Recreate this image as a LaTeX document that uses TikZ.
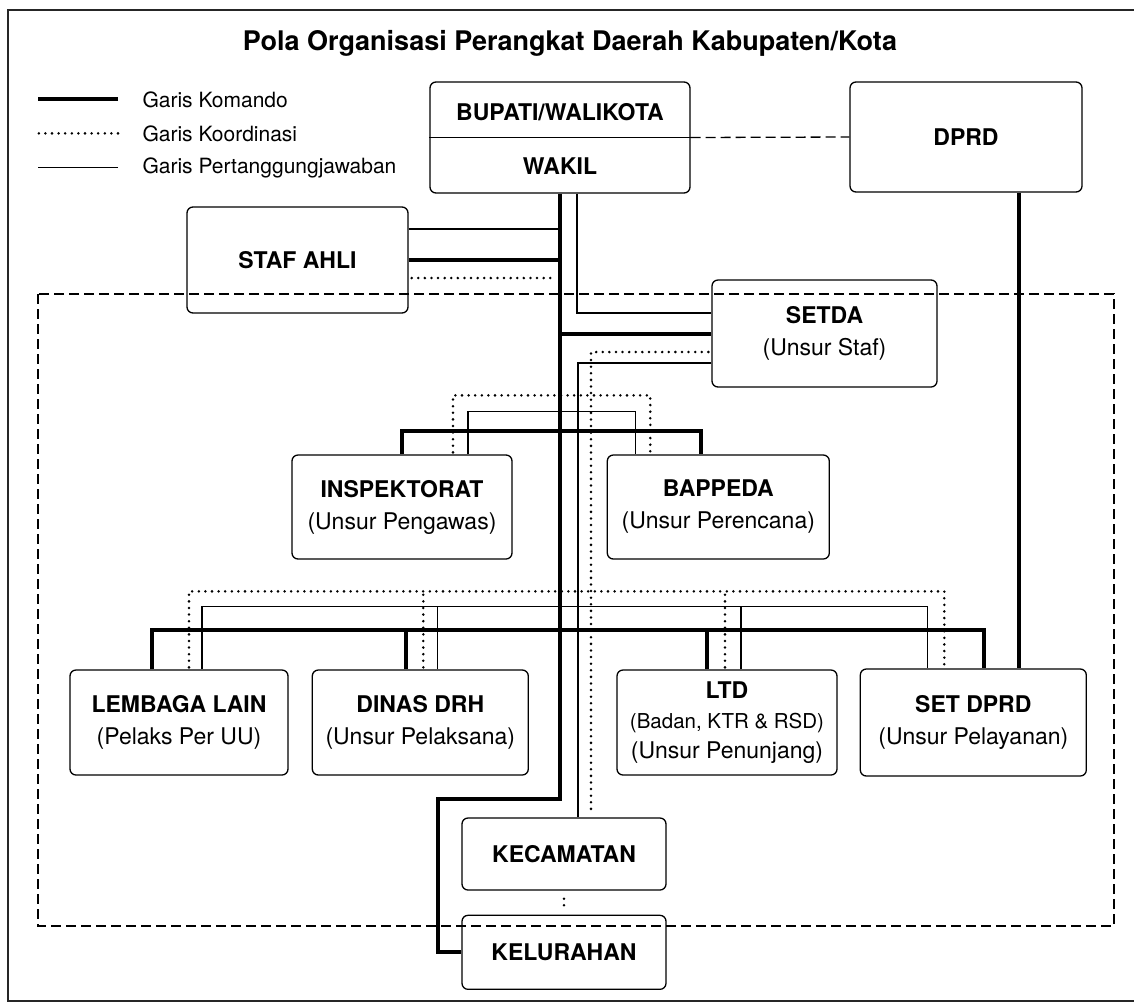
\documentclass[tikz,border=0pt]{standalone}
\usepackage{fontspec}
\setmainfont{TeX Gyre Heros}
\usetikzlibrary{positioning}

\begin{document}
\begin{tikzpicture}[x=1pt,y=-1pt,line join=miter]
  \tikzstyle{kotak}=[draw,rounded corners=6pt,line width=1.3pt,align=center,
                     inner sep=0pt,font=\fontsize{23}{32}\selectfont]
  \tikzstyle{komando}=[line width=4pt]
  \tikzstyle{tanggung}=[line width=1.4pt]
  \tikzstyle{koordinasi}=[line width=2.8pt,line cap=round,dash pattern=on 0pt off 6.6pt]
  \tikzstyle{batas}=[line width=1.3pt,dash pattern=on 10pt off 5pt]
  \tikzstyle{ket}=[anchor=base west,font=\fontsize{21}{24}\selectfont]

  \useasboundingbox (0,0) rectangle (1134,1005);
  \draw[line width=1.8pt,black!85] (1134,10) -- (8,10) -- (8,1001) -- (1134,1001);

  \node[font=\bfseries\fontsize{27}{30}\selectfont] (judul) at (570,43)
    {Pola Organisasi Perangkat Daerah Kabupaten/Kota};

  % keterangan garis
  \node[ket] (kKomando)  at (139,107) {Garis Komando};
  \node[ket] (kKoord)    at (139,141) {Garis Koordinasi};
  \node[ket] (kTanggung) at (139,173) {Garis Pertanggungjawaban};
  \draw[komando]    ([xshift=-21pt]kKomando.west)  -- ++(-80,0);
  \draw[koordinasi] ([xshift=-21pt]kKoord.west)    -- ++(-80,0);
  \draw[tanggung]   ([xshift=-21pt]kTanggung.west) -- ++(-80,0);

  % kotak
  \node[kotak,minimum width=260,minimum height=111] (bupati) at (560,137.5) {};
  \node[font=\bfseries\fontsize{23}{26}\selectfont] (bupatiT) at (560,112) {BUPATI/WALIKOTA};
  \node[font=\bfseries\fontsize{23}{26}\selectfont] (wakilT)  at (560,166) {WAKIL};
  \draw[line width=1.3pt] (bupati.west) -- (bupati.east);

  \node[kotak,minimum width=232,minimum height=110] (dprd) at (966,137) {\textbf{DPRD}};
  \node[kotak,minimum width=221,minimum height=106] (staf) at (297.5,260) {\textbf{STAF AHLI}};
  \node[kotak,minimum width=225,minimum height=107] (setda) at (824.5,333.5)
    {\textbf{SETDA}\\(Unsur Staf)};

  \node[kotak,minimum width=220,minimum height=104] (inspektorat) at (402,507)
    {\textbf{INSPEKTORAT}\\(Unsur Pengawas)};
  \node[kotak,minimum width=222,minimum height=104] (bappeda) [right=94pt of inspektorat]
    {\textbf{BAPPEDA}\\(Unsur Perencana)};

  \node[kotak,minimum width=218,minimum height=105] (lembaga) at (179,722.5)
    {\textbf{LEMBAGA LAIN}\\(Pelaks Per UU)};
  \node[kotak,minimum width=216,minimum height=105] (dinas) [right=23pt of lembaga]
    {\textbf{DINAS DRH}\\(Unsur Pelaksana)};
  \node[kotak,minimum width=220,minimum height=105,font=\fontsize{23}{30}\selectfont] (ltd) at (727,722.5)
    {\textbf{LTD}\\{\fontsize{20.5}{30}\selectfont (Badan, KTR \& RSD)}\\(Unsur Penunjang)};
  \node[kotak,minimum width=226,minimum height=107] (setdprd) [right=22pt of ltd]
    {\textbf{SET DPRD}\\(Unsur Pelayanan)};

  \node[kotak,minimum width=204,minimum height=72] (kecamatan) at (564,854) {\textbf{KECAMATAN}};
  \node[kotak,minimum width=204,minimum height=74] (kelurahan) [below=24pt of kecamatan]
    {\textbf{KELURAHAN}};

  \coordinate (belok) at (438,799);

  % batas perangkat daerah
  \draw[batas] (38,294) rectangle (1114,926);
  \draw[batas] (bupati.east) -- (dprd.west);

  % garis komando
  \draw[komando] (bupati.south) |- (belok) |- (kelurahan.west);
  \draw[komando] (staf.east) -- (staf.east -| bupati.south);
  \draw[komando] (setda.west -| bupati.south) -- (setda.west);
  \draw[komando] (inspektorat.north) -- ++(0,-23) -| ([xshift=-17pt]bappeda.north);
  \draw[komando] ([xshift=-27pt]lembaga.north) -- ++(0,-39.5) -| ([xshift=11pt]setdprd.north);
  \draw[komando] ([xshift=-14pt]dinas.north) -- ++(0,-39.5);
  \draw[komando] ([xshift=-20pt]ltd.north) -- ++(0,-39.5);
  \draw[komando] ([xshift=53pt]dprd.south) -- ([xshift=53pt]dprd.south |- setdprd.north);

  % garis pertanggungjawaban
  \draw[tanggung] ([yshift=31pt]staf.east) -- ([yshift=31pt]staf.east -| bupati.south);
  \draw[tanggung] ([xshift=17pt]bupati.south) |- ([yshift=20.5pt]setda.west);
  \draw[tanggung] ([yshift=-29.5pt]setda.west) -| ([xshift=14pt]kecamatan.north);
  \draw[tanggung] ([xshift=66pt]inspektorat.north) -- ++(0,-43) -| ([xshift=-83pt]bappeda.north);
  \draw[tanggung] ([xshift=23pt]lembaga.north) -- ++(0,-63) -| ([xshift=-46pt]setdprd.north);
  \draw[tanggung] ([xshift=17pt]dinas.north) -- ++(0,-63);
  \draw[tanggung] ([xshift=14pt]ltd.north) -- ++(0,-63);

  % garis koordinasi
  \draw[koordinasi,shorten >=5pt,shorten <=3pt] ([yshift=-18pt]staf.east) -- ([yshift=-18pt]staf.east -| bupati.south);
  \draw[koordinasi,shorten >=6pt,shorten <=3pt] ([yshift=-18.5pt]setda.west) -| ([xshift=27pt]kecamatan.north);
  \draw[koordinasi,shorten <=2pt] ([xshift=51pt]inspektorat.north) -- ++(0,-59) -| ([xshift=-68pt]bappeda.north);
  \draw[koordinasi,shorten <=2pt] ([xshift=10pt]lembaga.north) -- ++(0,-78) -| ([xshift=-29pt]setdprd.north);
  \draw[koordinasi,shorten <=2pt] ([xshift=3pt]dinas.north) -- ++(0,-78);
  \draw[koordinasi,shorten <=2pt] ([xshift=-2pt]ltd.north) -- ++(0,-78);
  \draw[koordinasi,shorten <=8pt,shorten >=5pt] (kecamatan.south) -- (kelurahan.north);
\end{tikzpicture}
\end{document}
